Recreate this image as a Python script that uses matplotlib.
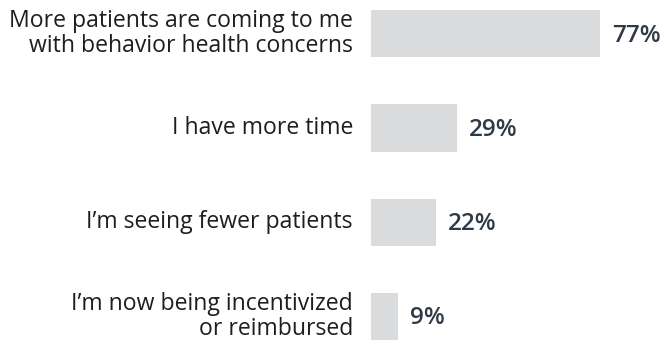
import matplotlib
matplotlib.use("Agg")
import matplotlib.pyplot as plt
from matplotlib.transforms import offset_copy

categories = [
    "More patients are coming to me\nwith behavior health concerns",
    "I have more time",
    "I\u2019m seeing fewer patients",
    "I\u2019m now being incentivized\nor reimbursed",
]
values = [77, 29, 22, 9]

W, H, DPI = 665, 346, 100
fig = plt.figure(figsize=(W / DPI, H / DPI), dpi=DPI)
ax = fig.add_axes([371 / W, 0, 1 - 371 / W, 1])

ypos = list(range(len(values)))
ax.barh(ypos, values, height=0.5, color="#d9dbdc")
ax.set_xlim(0, (W - 371) / 2.97)
ax.set_ylim(3.313, -0.357)
ax.axis("off")

for y, v, c in zip(ypos, values, categories):
    tr = offset_copy(ax.transData, fig=fig, x=12, y=-2, units="dots")
    ax.text(v, y, f"{v}%", transform=tr, ha="left", va="center",
            fontsize=17.5, color="#2e3a45", family="Open Sans", fontweight="semibold")
    tr2 = offset_copy(ax.transData, fig=fig, x=-18, y=0, units="dots")
    ax.text(0, y, c, transform=tr2, ha="right", va="center", multialignment="right",
            fontsize=16.6, color="#1e1e1e", family="Open Sans", linespacing=1.08)

fig.savefig("out.png", dpi=DPI)
